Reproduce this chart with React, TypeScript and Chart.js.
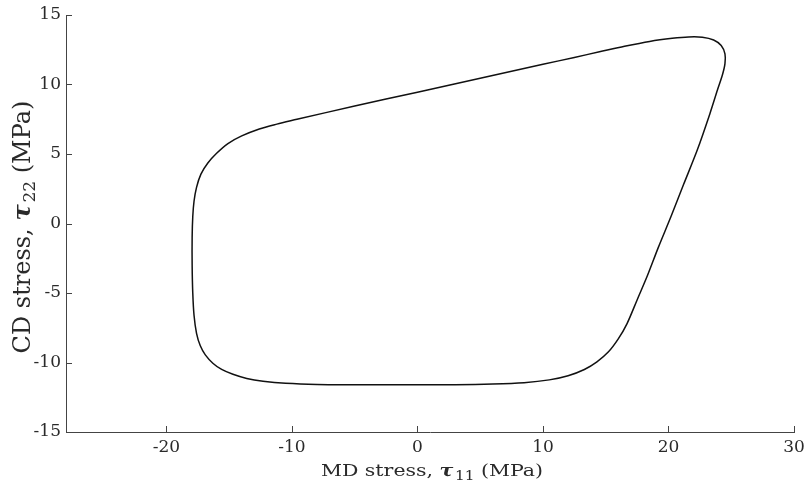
import React, { useEffect, useRef } from "react";
import { Chart, registerables } from "chart.js";

Chart.register(...registerables);

// Loop data (MD stress tau11, CD stress tau22), MPa, traversed clockwise
const mdStress: number[] = [
  -9.6, -5, 0, 5, 10, 12.5, 14.5, 16.5, 18.5, 20.3, 21.6, 22.7, 23.6, 24.2, 24.5, 24.5,
  24.3, 23.9, 23.3, 22.3, 21.2, 20.2, 19.2, 18.3, 17.5, 16.7, 16.0, 15.2, 14.3, 13.3,
  12.0, 10.5, 8.5, 6, 3, 0, -4, -8, -10.5, -12.3, -13.6, -14.7, -15.6, -16.3, -16.9,
  -17.3, -17.6, -17.8, -17.9, -17.95, -17.95, -17.9, -17.8, -17.6, -17.25, -16.7, -16.0,
  -15.1, -14.0, -12.6, -11.2, -9.6,
];
const cdStress: number[] = [
  7.5, 8.45, 9.45, 10.45, 11.45, 11.95, 12.35, 12.75, 13.1, 13.32, 13.42, 13.4, 13.2,
  12.8, 12.2, 11.5, 10.7, 9.6, 7.9, 5.3, 2.8, 0.5, -1.7, -3.8, -5.5, -7.2, -8.3, -9.25,
  -9.95, -10.5, -10.95, -11.25, -11.45, -11.55, -11.6, -11.6, -11.6, -11.58, -11.5,
  -11.35, -11.15, -10.85, -10.5, -10.05, -9.45, -8.8, -7.9, -6.6, -5, -3, -1, 0.5, 1.6,
  2.6, 3.55, 4.35, 5.05, 5.75, 6.3, 6.8, 7.15, 7.5,
];

const xTicks: number[] = [-20, -10, 0, 10, 20, 30];
const yTicks: number[] = [-15, -10, -5, 0, 5, 10, 15];
const xRange: number[] = [-28, 30];
const yRange: number[] = [-15, 15];

const FONT = "'DejaVu Serif', 'Liberation Serif', serif";
const AXIS_COLOR = "#444";
const TEXT_COLOR = "#2a2a2a";

function drawTitle(
  ctx: CanvasRenderingContext2D,
  size: number,
  sx: number,
  pre: string,
  sub: string,
  post: string
) {
  const normal = `${size}px ${FONT}`;
  const sym = `bold italic ${size}px ${FONT}`;
  const subSize = Math.round(size * 0.72);
  const small = `${subSize}px ${FONT}`;
  ctx.font = normal;
  const w1 = ctx.measureText(pre).width;
  const w4 = ctx.measureText(post).width;
  ctx.font = sym;
  const w2 = ctx.measureText("τ").width;
  ctx.font = small;
  const w3 = ctx.measureText(sub).width;
  const gap = size * 0.08;
  const total = w1 + w2 + w3 + w4 + gap;
  ctx.scale(sx, 1);
  let x = -total / 2;
  ctx.textBaseline = "alphabetic";
  ctx.textAlign = "left";
  ctx.fillStyle = TEXT_COLOR;
  ctx.font = normal;
  ctx.fillText(pre, x, 0);
  x += w1;
  ctx.font = sym;
  ctx.fillText("τ", x, 0);
  x += w2 + gap;
  ctx.font = small;
  ctx.fillText(sub, x, size * 0.22);
  x += w3;
  ctx.font = normal;
  ctx.fillText(post, x, 0);
}

const decorPlugin = {
  id: "decor",
  afterDraw(chart: any) {
    const ctx: CanvasRenderingContext2D = chart.ctx;
    const xs = chart.scales.x;
    const ys = chart.scales.y;
    const area = chart.chartArea;
    ctx.save();
    ctx.strokeStyle = AXIS_COLOR;
    ctx.lineWidth = 1;
    ctx.beginPath();
    for (const v of xTicks) {
      const px = Math.round(xs.getPixelForValue(v)) + 0.5;
      ctx.moveTo(px, area.bottom);
      ctx.lineTo(px, area.bottom - 6);
    }
    for (const v of yTicks) {
      const py = Math.round(ys.getPixelForValue(v)) + 0.5;
      ctx.moveTo(area.left, py);
      ctx.lineTo(area.left + 6, py);
    }
    ctx.stroke();

    // x title
    ctx.save();
    ctx.translate(432, 476);
    drawTitle(ctx, 16, 1.28, "MD stress, ", "11", " (MPa)");
    ctx.restore();

    // y title
    ctx.save();
    ctx.translate(30, 227);
    ctx.rotate(-Math.PI / 2);
    drawTitle(ctx, 24, 1, "CD stress, ", "22", " (MPa)");
    ctx.restore();
    ctx.restore();
  },
};

export default function App() {
  const canvasRef = useRef<HTMLCanvasElement | null>(null);

  useEffect(() => {
    document.body.style.margin = "0";
    const canvas = canvasRef.current;
    if (!canvas) return;
    const points = mdStress.map((x, i) => ({ x, y: cdStress[i] }));
    const chart = new Chart(canvas, {
      type: "scatter",
      data: {
        datasets: [
          {
            data: points,
            showLine: true,
            borderColor: "#111",
            borderWidth: 1.5,
            pointRadius: 0,
            tension: 0.3,
            fill: false,
          },
        ],
      },
      options: {
        animation: false,
        responsive: false,
        maintainAspectRatio: false,
        layout: { padding: { top: 15, right: 12, left: 0, bottom: 0 } },
        plugins: {
          legend: { display: false },
          tooltip: { enabled: false },
          title: { display: false },
        },
        scales: {
          x: {
            type: "linear",
            min: xRange[0],
            max: xRange[1],
            grid: { display: false, drawTicks: false },
            border: { display: true, color: AXIS_COLOR, width: 1 },
            afterBuildTicks: (scale: any) => {
              scale.ticks = xTicks.map((v) => ({ value: v }));
            },
            afterFit: (scale: any) => {
              scale.height = 57;
              scale.paddingRight = 0;
              scale.paddingLeft = 0;
            },
            ticks: {
              color: TEXT_COLOR,
              font: { family: FONT, size: 17 },
              padding: 5,
              maxRotation: 0,
              callback: (v: any) => String(v),
            },
          },
          y: {
            type: "linear",
            min: yRange[0],
            max: yRange[1],
            grid: { display: false, drawTicks: false },
            border: { display: true, color: AXIS_COLOR, width: 1 },
            afterBuildTicks: (scale: any) => {
              scale.ticks = yTicks.map((v) => ({ value: v }));
            },
            afterFit: (scale: any) => {
              scale.width = 66;
              scale.paddingTop = 0;
              scale.paddingBottom = 0;
            },
            ticks: {
              color: TEXT_COLOR,
              font: { family: FONT, size: 17 },
              padding: 5,
              callback: (v: any) => String(v),
            },
          },
        },
      },
      plugins: [decorPlugin],
    });
    return () => chart.destroy();
  }, []);

  return (
    <div style={{ width: 806, height: 489, background: "#fff" }}>
      <canvas ref={canvasRef} width={806} height={489} style={{ display: "block" }} />
    </div>
  );
}
